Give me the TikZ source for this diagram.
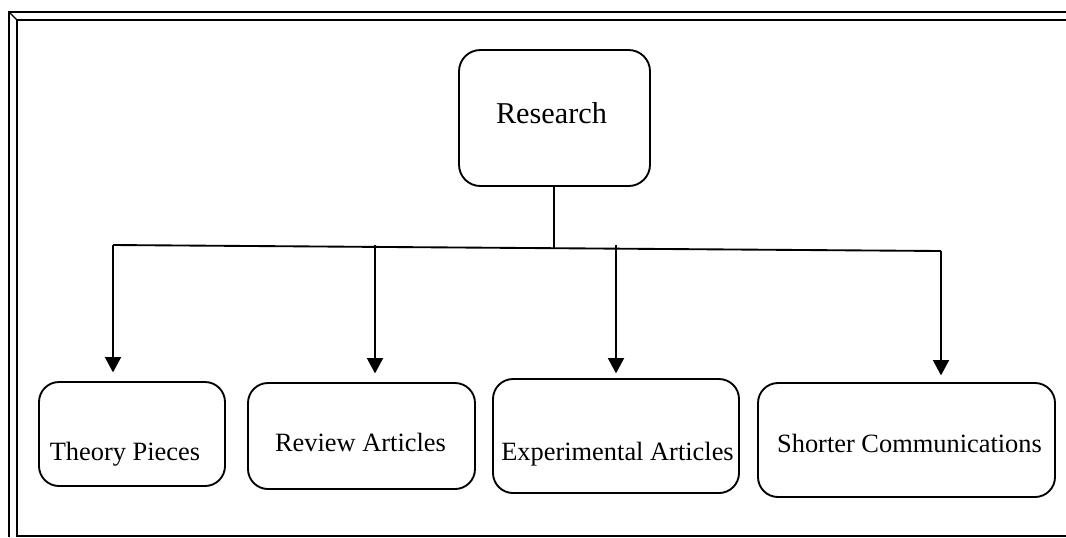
\documentclass[tikz,border=0pt]{standalone}
\usepackage{fontspec}
\setmainfont{Liberation Serif}
\usetikzlibrary{arrows.meta}
\begin{document}
\begin{tikzpicture}[x=0.75pt,y=-0.75pt,
  box/.style={draw, rounded corners=15pt, line width=1.4pt, inner sep=0pt},
  lbl/.style={anchor=base, inner sep=0pt, font=\fontsize{19.8}{22}\selectfont},
  wire/.style={line width=1.4pt},
  arr/.style={line width=1.4pt, -{Triangle[length=11.5pt,width=12pt]}},
  frameline/.style={line width=1.6pt}]
\useasboundingbox (0,0) rectangle (1066,537);

% page frame (double rule at top and left)
\draw[frameline] (1066,12) -- (9,12) -- (9,537);
\draw[frameline, line width=1.2pt] (1066,20) -- (17,20) -- (17,536) -- (1066,536);
\draw[line width=1pt] (9,12) -- (17,20);

% boxes
\node[box, rounded corners=16pt, minimum width=143.25pt, minimum height=102pt] (research) at (554.5,118) {};
\node[lbl, font=\fontsize{22.7}{26}\selectfont] (researchtxt) at (551.5,123) {Research};

\node[box, minimum width=139.5pt, minimum height=78pt] (theory) at (132,434) {};
\node[lbl] (theorytxt) at (125,460) {Theory Pieces};

\node[box, minimum width=170.25pt, minimum height=79.5pt] (review) at (361.5,436) {};
\node[lbl] (reviewtxt) at (360.5,451) {Review Articles};

\node[box, minimum width=184.5pt, minimum height=85.5pt] (experimental) at (616,436) {};
\node[lbl] (experimentaltxt) at (617.5,460) {Experimental Articles};

\node[box, minimum width=222.75pt, minimum height=85.5pt] (shorter) at (906.5,440) {};
\node[lbl] (shortertxt) at (909.5,452) {Shorter Communications};

% distribution bus
\coordinate (busL) at (113,245);
\coordinate (busR) at (941,251);
\coordinate (busM) at (554,248);
\coordinate (tReview) at (375,245);
\coordinate (tExp) at (616,245);

\draw[wire] (research.south -| busM) -- (busM);
\draw[wire] (busL) -- (busR);

% branches
\draw[arr, shorten >=6.5pt] (busL) -- (theory.north -| busL);
\draw[arr, shorten >=6.5pt] (tReview) -- (review.north -| tReview);
\draw[arr, shorten >=3.5pt] (tExp) -- (experimental.north -| tExp);
\draw[arr, shorten >=5pt] (busR) -- (shorter.north -| busR);
\end{tikzpicture}
\end{document}
